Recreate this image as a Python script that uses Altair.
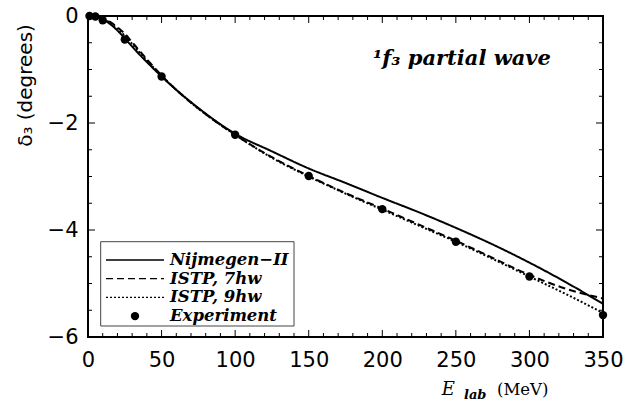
import altair as alt
import pandas as pd

# ---- data ----
energy = [0, 5, 10, 15, 20, 25, 30, 35, 40, 50, 60, 75, 100, 125, 150, 175, 200, 225, 250, 275, 300, 325, 350]
nijmegen = [0, -0.01, -0.06, -0.15, -0.27, -0.42, -0.57, -0.72, -0.86, -1.13, -1.38, -1.72, -2.20, -2.53, -2.85,
            -3.12, -3.40, -3.67, -3.96, -4.27, -4.61, -4.98, -5.38]
istp7 = [0, -0.01, -0.04, -0.11, -0.21, -0.33, -0.49, -0.65, -0.81, -1.11, -1.38, -1.73, -2.22, -2.64, -2.99,
         -3.31, -3.60, -3.90, -4.20, -4.52, -4.84, -5.10, -5.28]
istp9 = [0, -0.01, -0.05, -0.13, -0.24, -0.37, -0.52, -0.68, -0.83, -1.12, -1.38, -1.73, -2.22, -2.65, -3.00,
         -3.32, -3.62, -3.92, -4.22, -4.54, -4.87, -5.20, -5.55]
exp_energy = [1, 5, 10, 25, 50, 100, 150, 200, 250, 300, 350]
exp_delta = [0, -0.01, -0.08, -0.44, -1.13, -2.22, -2.99, -3.61, -4.22, -4.87, -5.59]

x_ticks = [0, 50, 100, 150, 200, 250, 300, 350]
y_ticks = [0, -2, -4, -6]
legend_labels = ["Nijmegen\u2212II", "ISTP, 7hw", "ISTP, 9hw", "Experiment"]

# ---- layout ----
W, H = 515, 321
SERIF = "DejaVu Serif"
SANS = "DejaVu Sans"

xscale = alt.Scale(domain=[0, 350], nice=False, zero=False)
yscale = alt.Scale(domain=[-6, 0], nice=False, zero=False)

curves = pd.DataFrame({"E": energy, "nij": nijmegen, "i7": istp7, "i9": istp9})
exp_df = pd.DataFrame({"E": exp_energy, "d": exp_delta})

x_axis = alt.Axis(values=x_ticks, ticks=False, domain=False, grid=False, labelFont=SANS,
                  labelFontSize=21, labelColor="black", labelPadding=12, labelFlush=False, title=None)
y_axis = alt.Axis(values=y_ticks, ticks=False, domain=False, grid=False, labelFont=SANS,
                  labelFontSize=21, labelColor="black", labelPadding=10, labelFlush=False,
                  title="\u03b4\u2083 (degrees)", titleFont=SANS, titleFontSize=20,
                  titleFontWeight="normal", titleColor="black", titleX=-63, titleY=69,
                  titleAngle=270, titleAlign="center", titleBaseline="middle")


def X(field):
    return alt.X(field, scale=xscale, axis=x_axis)


def Y(field):
    return alt.Y(field, scale=yscale, axis=y_axis)


layers = []
dashes = [[1, 0], [7, 4], [2, 2]]
for col, dash in zip(["nij", "i7", "i9"], dashes):
    layers.append(
        alt.Chart(curves).mark_line(color="black", strokeWidth=2, strokeDash=dash, interpolate="monotone",
                                    clip=True)
        .encode(x=X("E:Q"), y=Y(f"{col}:Q"))
    )

layers.append(
    alt.Chart(exp_df).mark_point(filled=True, color="black", size=70, opacity=1, shape="circle")
    .encode(x=X("E:Q"), y=Y("d:Q"))
)

# inward tick marks on all four sides
xt_major = pd.DataFrame({"t": [v for v in range(0, 351, 10) if v % 50 == 0]})
xt_minor = pd.DataFrame({"t": [v for v in range(0, 351, 10) if v % 50 != 0]})
yt_major = pd.DataFrame({"t": [v * 0.5 for v in range(-12, 1) if v % 4 == 0]})
yt_minor = pd.DataFrame({"t": [v * 0.5 for v in range(-12, 1) if v % 4 != 0]})
for df, L in [(xt_major, 7), (xt_minor, 4)]:
    layers.append(alt.Chart(df).mark_rule(color="black", strokeWidth=1).encode(
        x=X("t:Q"), y=alt.value(H), y2=alt.value(H - L)))
    layers.append(alt.Chart(df).mark_rule(color="black", strokeWidth=1).encode(
        x=X("t:Q"), y=alt.value(0), y2=alt.value(L)))
for df, L in [(yt_major, 7), (yt_minor, 4)]:
    layers.append(alt.Chart(df).mark_rule(color="black", strokeWidth=1).encode(
        y=Y("t:Q"), x=alt.value(0), x2=alt.value(L)))
    layers.append(alt.Chart(df).mark_rule(color="black", strokeWidth=1).encode(
        y=Y("t:Q"), x=alt.value(W), x2=alt.value(W - L)))

one = pd.DataFrame({"a": [0]})

# legend box
layers.append(alt.Chart(one).mark_rect(fill="white", stroke="#444444", strokeWidth=1).encode(
    x=alt.value(12.7), x2=alt.value(206), y=alt.value(225.7), y2=alt.value(310)))
row0, dy = 244, 18.7
for i, lab in enumerate(legend_labels):
    yy = row0 + i * dy
    if i < 3:
        layers.append(alt.Chart(one).mark_rule(color="black", strokeWidth=1.3, strokeDash=dashes[i]).encode(
            x=alt.value(18), x2=alt.value(76), y=alt.value(yy)))
    else:
        layers.append(alt.Chart(one).mark_point(filled=True, color="black", size=70, opacity=1).encode(
            x=alt.value(47), y=alt.value(yy)))
    layers.append(alt.Chart(one).mark_text(text=lab, font=SERIF, fontStyle="italic", fontWeight="bold",
                                           fontSize=16.5, align="left", baseline="middle",
                                           color="black").encode(
        x=alt.value(82), y=alt.value(yy)))

# annotation
layers.append(alt.Chart(one).mark_text(text="\u00b9f\u2083 partial wave", font=SERIF, fontStyle="italic",
                                       fontWeight="bold", fontSize=21, align="left", baseline="alphabetic",
                                       color="black").encode(
    x=alt.value(285), y=alt.value(49)))

# x-axis title E_lab (MeV)
layers.append(alt.Chart(one).mark_text(text="E", font=SERIF, fontStyle="italic", fontSize=18,
                                       align="left", baseline="alphabetic", color="black").encode(
    x=alt.value(353.7), y=alt.value(379)))
layers.append(alt.Chart(one).mark_text(text="lab", font=SERIF, fontStyle="italic", fontWeight="bold",
                                       fontSize=13, align="left", baseline="alphabetic", color="black").encode(
    x=alt.value(376), y=alt.value(383)))
layers.append(alt.Chart(one).mark_text(text="(MeV)", font=SERIF, fontSize=16.5,
                                       align="left", baseline="alphabetic", color="black").encode(
    x=alt.value(409), y=alt.value(379)))

chart = alt.layer(*layers).properties(
    width=W, height=H,
    autosize=alt.AutoSizeParams(type="none"),
    padding={"left": 88, "top": 16, "right": 31, "bottom": 73},
).configure(background="white", view=alt.ViewConfig(stroke="black", strokeWidth=2))

chart.save("out.html", embed_options={"renderer": "svg", "actions": False})
